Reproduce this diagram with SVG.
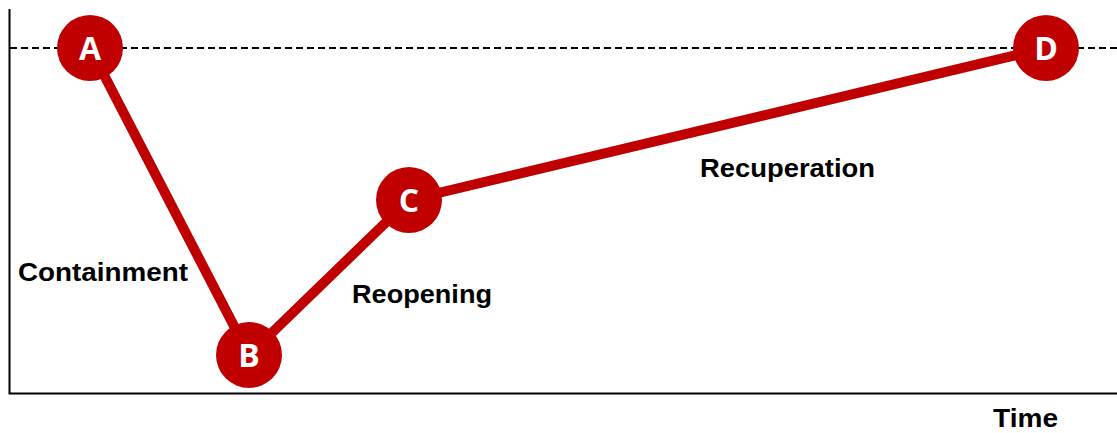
<svg xmlns="http://www.w3.org/2000/svg" width="1117" height="433" viewBox="0 0 1117 433">
<style>
.axis{stroke:#000;stroke-width:2;fill:none}
.dash{stroke:#000;stroke-width:2;stroke-dasharray:7 4;fill:none}
.seg{stroke:#C00000;stroke-width:10;fill:none}
.node{fill:#C00000}
.nl{fill:#fff;font-family:"Open Sans","Liberation Sans",sans-serif;font-weight:bold;font-size:32px;text-anchor:middle}
.lbl{fill:#000;font-family:"Liberation Sans",Arial,sans-serif;font-weight:bold;font-size:26px}
</style>
<rect width="1117" height="433" fill="#fff"/>
<g id="axes">
<path class="axis" d="M9.5 9 V393.5 H1117"/>
<path class="dash" d="M10 48 H1117"/>
</g>
<g id="connectors">
<line class="seg" x1="90" y1="48" x2="249" y2="355"/>
<line class="seg" x1="249" y1="355" x2="409" y2="200"/>
<line class="seg" x1="409" y1="200" x2="1046" y2="48"/>
</g>
<g id="A"><circle class="node" cx="90" cy="48" r="33"/><text class="nl" x="90" y="60">A</text></g>
<g id="B"><circle class="node" cx="249" cy="355" r="33"/><text class="nl" x="249" y="367">B</text></g>
<g id="C"><circle class="node" cx="409" cy="200" r="33"/><text class="nl" x="409" y="212">C</text></g>
<g id="D"><circle class="node" cx="1046" cy="48" r="33"/><text class="nl" x="1046" y="60">D</text></g>
<g id="labels">
<text class="lbl" x="18" y="281" textLength="170" lengthAdjust="spacingAndGlyphs">Containment</text>
<text class="lbl" x="352" y="303" textLength="140" lengthAdjust="spacingAndGlyphs">Reopening</text>
<text class="lbl" x="700" y="177" textLength="175" lengthAdjust="spacingAndGlyphs">Recuperation</text>
<text class="lbl" x="993" y="427" textLength="65" lengthAdjust="spacingAndGlyphs">Time</text>
</g>
</svg>
